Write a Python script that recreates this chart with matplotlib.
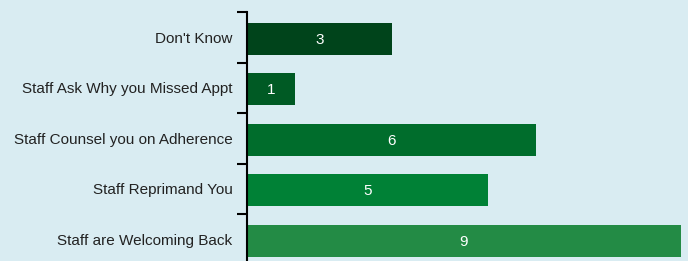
import matplotlib
matplotlib.use("Agg")
import matplotlib.pyplot as plt

# donnees
categories = ["Don't Know", "Staff Ask Why you Missed Appt", "Staff Counsel you on Adherence",
              "Staff Reprimand You", "Staff are Welcoming Back"]
valeurs = [3, 1, 6, 5, 9]
couleurs = ["#00441b", "#005a24", "#006d2c", "#008136", "#238b45"]

fond = "#d9ecf2"
plt.rcParams['font.family'] = ['Liberation Sans', 'DejaVu Sans']

fig = plt.figure(figsize=(6.88, 2.61), dpi=100, facecolor=fond)
ax = fig.add_axes([247/688, -3.5/261, 1 - 247/688, 252.5/261], facecolor=fond)

pos = list(range(len(categories)))
ax.barh([p + 0.03 for p in pos], valeurs, height=0.63, color=couleurs)
for p, v in zip(pos, valeurs):
    ax.text(v / 2, p + 0.05, str(v), ha="center", va="center", color="white", fontsize=11)

ax.set_ylim(len(categories) - 0.5, -0.5)
ax.set_xlim(0, 441 / 48.2)
ax.set_yticks(pos)
ax.set_yticklabels(categories, fontsize=11, color="#222222")
ax.tick_params(axis="y", which="major", length=0, pad=10.5)
ax.set_yticks([p - 0.5 for p in pos] + [len(categories) - 0.5], minor=True)
ax.tick_params(axis="y", which="minor", length=7, width=1.5, color="black")
ax.set_xticks([])
for s in ["top", "right", "bottom"]:
    ax.spines[s].set_visible(False)
ax.spines["left"].set_linewidth(1.5)

fig.savefig("out.png", dpi=100, facecolor=fond)
